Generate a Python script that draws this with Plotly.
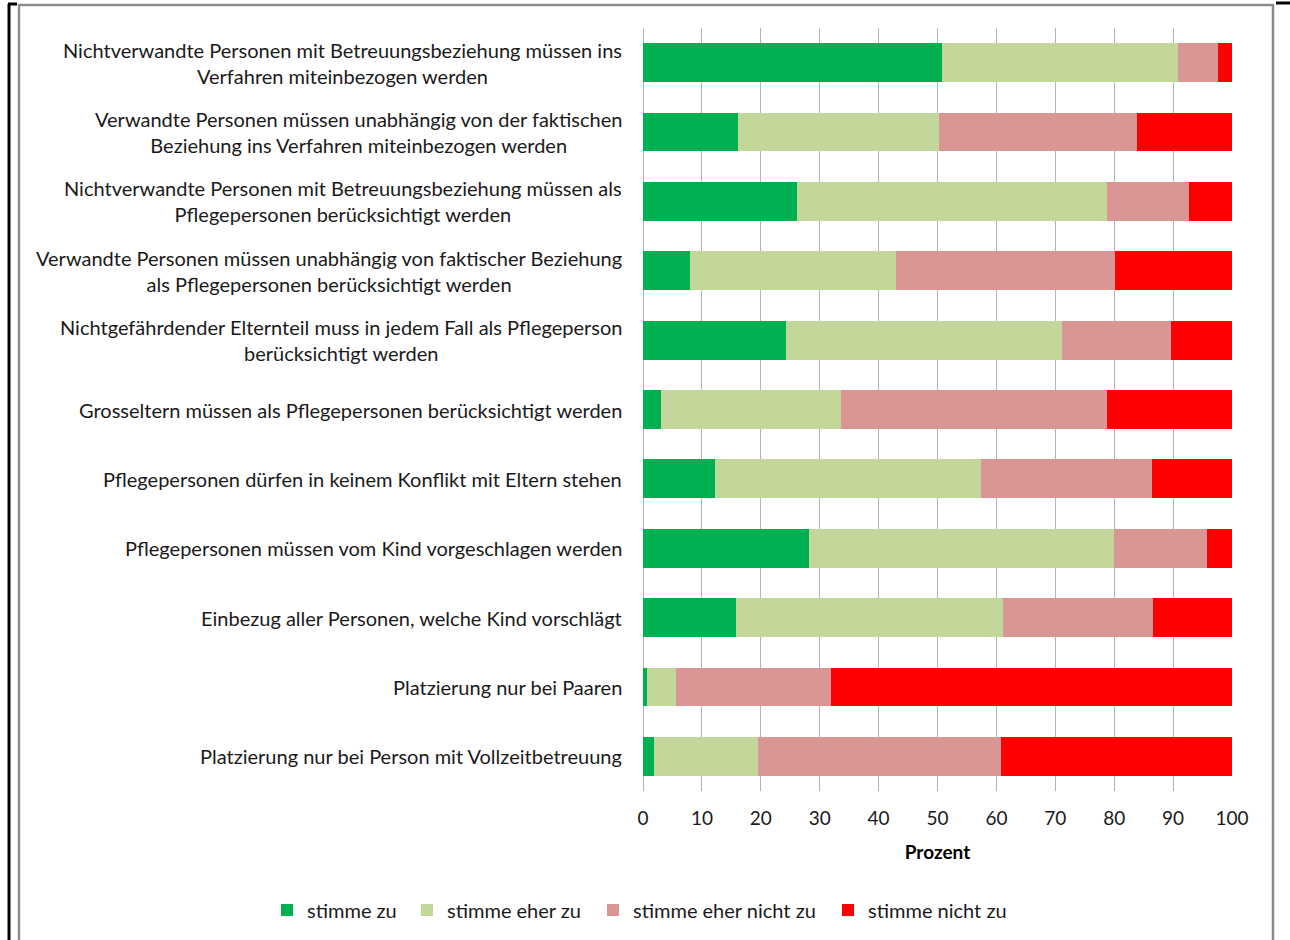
import plotly.graph_objects as go

categories = [
    "Nichtverwandte Personen mit Betreuungsbeziehung müssen ins<br>Verfahren miteinbezogen werden",
    "Verwandte Personen müssen unabhängig von der faktischen<br>Beziehung ins Verfahren miteinbezogen werden",
    "Nichtverwandte Personen mit Betreuungsbeziehung müssen als<br>Pflegepersonen berücksichtigt werden",
    "Verwandte Personen müssen unabhängig von faktischer Beziehung<br>als Pflegepersonen berücksichtigt werden",
    "Nichtgefährdender Elternteil muss in jedem Fall als Pflegeperson<br>berücksichtigt werden",
    "Grosseltern müssen als Pflegepersonen berücksichtigt werden",
    "Pflegepersonen dürfen in keinem Konflikt mit Eltern stehen",
    "Pflegepersonen müssen vom Kind vorgeschlagen werden",
    "Einbezug aller Personen, welche Kind vorschlägt",
    "Platzierung nur bei Paaren",
    "Platzierung nur bei Person mit Vollzeitbetreuung",
]

series_names = ["stimme zu", "stimme eher zu", "stimme eher nicht zu", "stimme nicht zu"]

stimme_zu = [50.7, 16.2, 26.2, 7.9, 24.2, 3.1, 12.2, 28.1, 15.8, 0.7, 1.8]
stimme_eher_zu = [40.2, 34.1, 52.5, 35.0, 46.9, 30.5, 45.1, 51.9, 45.4, 4.9, 17.7]
stimme_eher_nicht_zu = [6.8, 33.5, 14.0, 37.2, 18.6, 45.1, 29.2, 15.7, 25.4, 26.3, 41.2]
stimme_nicht_zu = [2.3, 16.2, 7.3, 19.9, 10.3, 21.3, 13.5, 4.3, 13.4, 68.1, 39.3]

x_ticks = [0, 10, 20, 30, 40, 50, 60, 70, 80, 90, 100]
x_title = "Prozent"

colors = ["#00B050", "#C4D79B", "#DA9694", "#FF0000"]
FONT = "Lato, 'Open Sans', sans-serif"
TXT = "#1a1a1a"

W, H = 1290, 940
PL, PR, PT, PB = 643, 1232, 28, 791  # plot area in px
legend_text_x = [307, 447, 633, 868]   # where each legend label starts (px)
LEGEND_Y = 910


def px_x(px):
    return (px - PL) / (PR - PL)


def px_y(py):
    return (PB - py) / (PB - PT)


fig = go.Figure()
legend_ids = ["legend", "legend2", "legend3", "legend4"]
for name, vals, col, lid in zip(series_names,
                                [stimme_zu, stimme_eher_zu, stimme_eher_nicht_zu, stimme_nicht_zu],
                                colors, legend_ids):
    fig.add_trace(go.Bar(
        y=categories, x=vals, name=name, orientation="h",
        marker=dict(color=col, line=dict(width=0)), legend=lid,
    ))

for cat in categories:
    fig.add_annotation(
        x=0, y=cat, xref="x", yref="y", text=cat, showarrow=False,
        xanchor="right", yanchor="middle", align="center", xshift=-19,
        font=dict(family=FONT, size=20, color=TXT),
    )

shapes = [
    dict(type="rect", xref="paper", yref="paper",
         x0=px_x(19), x1=px_x(1273), y0=px_y(5), y1=px_y(960),
         line=dict(color="#8C8C8C", width=2.5), fillcolor="rgba(0,0,0,0)", layer="below"),
    dict(type="line", xref="paper", yref="paper",
         x0=px_x(9), x1=px_x(9), y0=px_y(4), y1=px_y(960),
         line=dict(color="#000000", width=3)),
    dict(type="line", xref="paper", yref="paper",
         x0=px_x(8), x1=px_x(17), y0=px_y(4), y1=px_y(4),
         line=dict(color="#000000", width=3)),
    dict(type="line", xref="paper", yref="paper",
         x0=px_x(1276), x1=px_x(1292), y0=px_y(3), y1=px_y(3),
         line=dict(color="#000000", width=3)),
]

legend_layout = {}
for lid, tx in zip(legend_ids, legend_text_x):
    legend_layout[lid] = dict(
        orientation="h", xref="container", yref="container",
        x=(tx - 40) / W, xanchor="left",
        y=1 - LEGEND_Y / H, yanchor="middle",
        font=dict(family=FONT, size=20, color=TXT),
        itemwidth=30, bgcolor="rgba(0,0,0,0)",
    )

fig.update_layout(
    width=W, height=H,
    margin=dict(l=PL, r=W - PR, t=PT, b=H - PB, pad=0, autoexpand=False),
    barmode="stack", bargap=0.44,
    plot_bgcolor="white", paper_bgcolor="white",
    font=dict(family=FONT, size=19, color=TXT),
    showlegend=True,
    shapes=shapes,
    **legend_layout,
)
fig.update_xaxes(
    range=[0, 100], tickvals=x_ticks, showgrid=True, gridcolor="#B4B4B4", gridwidth=1,
    zeroline=True, zerolinecolor="#B4B4B4", zerolinewidth=1, showline=False,
    ticks="", ticklabelstandoff=14,
    tickfont=dict(family=FONT, size=19, color=TXT),
    title=dict(text="<b>" + x_title + "</b>", font=dict(family=FONT, size=19, color="#000000"), standoff=17),
)
fig.update_yaxes(
    autorange="reversed", showticklabels=False, showgrid=False, zeroline=False,
    showline=False, ticks="",
)

fig.write_html("out.html", config={"displayModeBar": False},
               post_script="document.body.style.margin='0';document.body.style.overflow='hidden';")
